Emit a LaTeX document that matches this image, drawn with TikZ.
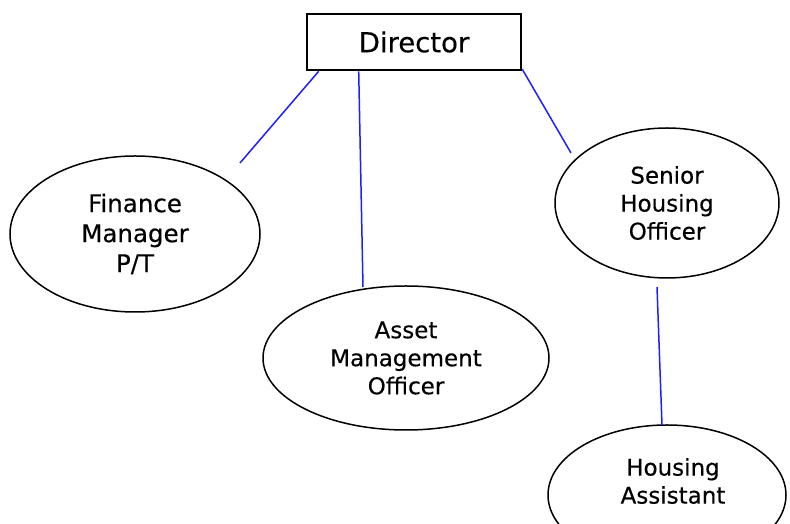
\documentclass[tikz,border=0pt]{standalone}
\usepackage{fontspec}
\setmainfont{DejaVu Sans}[FakeBold=0.35]
\usetikzlibrary{shapes.geometric}
\begin{document}
\begin{tikzpicture}[x=1pt,y=1pt,
  postbox/.style={draw=black,line width=2.6pt,inner sep=0pt,
    minimum width=214pt,minimum height=56pt,font=\fontsize{27.5}{30}\selectfont},
  postoval/.style={draw=black,line width=1.5pt,ellipse,inner sep=0pt,align=center,
    font=\fontsize{23}{28}\selectfont},
  postlabel/.style={inner sep=0pt,align=center,font=\fontsize{23}{28}\selectfont},
  link/.style={draw={rgb,255:red,30;green,30;blue,255},line width=1.5pt}]
\useasboundingbox (0,0) rectangle (790,524);
\clip (0,0) rectangle (790,524);

% posts
\node[postbox] (dir) at (414,482) {Director};
\node[postoval,minimum width=250pt,minimum height=156pt,
  font=\fontsize{24.5}{30}\selectfont] (fin) at (135,290) {Finance\\Manager\\P/T};
\node[postoval,minimum width=286pt,minimum height=144pt] (amo) at (406,166)
  {Asset\\Management\\Officer};
\node[postoval,minimum width=224pt,minimum height=150pt] (sho) at (667,321)
  {Senior\\Housing\\Officer};
\node[postoval,minimum width=238pt,minimum height=140pt] (ha) at (667,29) {};
\node[postlabel] (hatext) at (673,43) {Housing\\Assistant};

% loose ends of the reporting lines
\coordinate (finend) at (240,361);
\coordinate (amoend) at (363,237);
\coordinate (shoend) at (571,371);
\coordinate (shostart) at (657,237);
\coordinate (haend) at (662,99);

% reporting lines
\draw[link] ([xshift=13pt]dir.south west) -- (finend);
\draw[link] ([xshift=53pt]dir.south west) -- (amoend);
\draw[link] ([yshift=2pt]dir.south east) -- (shoend);
\draw[link] (shostart) -- (haend);
\end{tikzpicture}
\end{document}
